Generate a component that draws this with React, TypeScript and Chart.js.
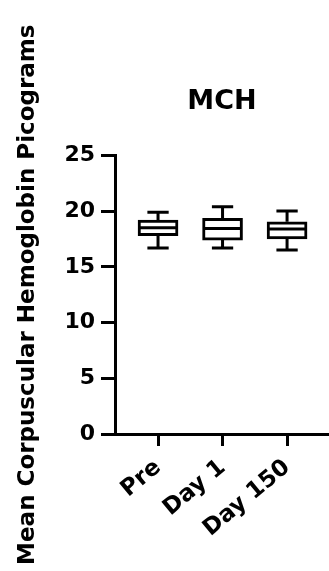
import React, { useEffect, useRef } from "react";
import { Chart, registerables } from "chart.js";

Chart.register(...registerables);

const categories = ["Pre", "Day 1", "Day 150"];
const whiskerMin = [16.7, 16.7, 16.5];
const q1Values = [17.8, 17.4, 17.5];
const medianValues = [18.5, 18.45, 18.4];
const q3Values = [19.2, 19.35, 19.05];
const whiskerMax = [19.9, 20.4, 20.0];
const yTicks = [0, 5, 10, 15, 20, 25];

const FONT = "'DejaVu Sans', 'Liberation Sans', Arial, sans-serif";

const boxPlugin = {
  id: "boxWhiskers",
  afterDatasetsDraw(chart: any) {
    const { ctx, scales } = chart;
    const xs = scales.x;
    const ys = scales.y;
    ctx.save();
    ctx.strokeStyle = "#000";
    ctx.lineWidth = 3;
    ctx.lineCap = "butt";
    categories.forEach((_, i) => {
      const xc = xs.getPixelForValue(i + 1);
      const capHalf = xs.getPixelForValue(i + 1 + 0.165) - xc;
      const boxHalf = xs.getPixelForValue(i + 1 + 0.29) - xc;
      const yMin = ys.getPixelForValue(whiskerMin[i]);
      const yMax = ys.getPixelForValue(whiskerMax[i]);
      const yQ1 = ys.getPixelForValue(q1Values[i]);
      const yQ3 = ys.getPixelForValue(q3Values[i]);
      const yMed = ys.getPixelForValue(medianValues[i]);
      ctx.beginPath();
      ctx.moveTo(xc, yQ3);
      ctx.lineTo(xc, yMax);
      ctx.moveTo(xc - capHalf, yMax);
      ctx.lineTo(xc + capHalf, yMax);
      ctx.moveTo(xc, yQ1);
      ctx.lineTo(xc, yMin);
      ctx.moveTo(xc - capHalf, yMin);
      ctx.lineTo(xc + capHalf, yMin);
      ctx.moveTo(xc - boxHalf, yMed);
      ctx.lineTo(xc + boxHalf, yMed);
      ctx.stroke();
    });
    ctx.restore();
  },
};

export default function App() {
  const ref = useRef<HTMLCanvasElement | null>(null);
  useEffect(() => {
    if (!ref.current) return;
    const chart = new Chart(ref.current, {
      type: "bar",
      data: {
        datasets: [
          {
            data: categories.map((_, i) => ({ x: i + 1, y: [q1Values[i], q3Values[i]] })) as any,
            backgroundColor: "#fff",
            borderColor: "#000",
            borderWidth: 3,
            borderSkipped: false,
            barThickness: 40,
          },
        ],
      },
      options: {
        responsive: false,
        animation: false,
        layout: { padding: 0 },
        plugins: {
          legend: { display: false },
          tooltip: { enabled: false },
          title: {
            display: true,
            text: "MCH",
            fullSize: false,
            color: "#000",
            font: { family: FONT, size: 27, weight: "bold" },
            padding: { top: 86, bottom: 37 },
          },
        },
        scales: {
          x: {
            type: "linear",
            min: 0.333,
            max: 3.65,
            offset: false,
            afterBuildTicks: (scale: any) => {
              scale.ticks = categories.map((_, i) => ({ value: i + 1 }));
            },
            afterFit: (scale: any) => {
              scale.height = 137;
            },
            ticks: {
              autoSkip: false,
              minRotation: 40,
              maxRotation: 40,
              padding: 8,
              color: "#000",
              font: { family: FONT, size: 23, weight: "bold" },
              callback: (v: any) => categories[Math.round(Number(v)) - 1] ?? "",
            },
            grid: {
              offset: false,
              drawOnChartArea: false,
              drawTicks: true,
              tickLength: 12,
              tickWidth: 3,
              tickColor: "#000",
            },
            border: { display: true, color: "#000", width: 3 },
          },
          y: {
            min: 0,
            max: 25,
            afterBuildTicks: (scale: any) => {
              scale.ticks = yTicks.map((v) => ({ value: v }));
            },
            afterFit: (scale: any) => {
              scale.width = 115;
            },
            ticks: {
              padding: 6,
              color: "#000",
              font: { family: FONT, size: 22, weight: "bold" },
            },
            grid: {
              drawOnChartArea: false,
              drawTicks: true,
              tickLength: 14,
              tickWidth: 3,
              tickColor: "#000",
            },
            border: { display: true, color: "#000", width: 3 },
            title: {
              display: true,
              text: "Mean Corpuscular Hemoglobin Picograms",
              color: "#000",
              font: { family: FONT, size: 23, weight: "bold" },
              padding: { top: 14, bottom: 0 },
            },
          },
        },
      },
      plugins: [boxPlugin],
    });
    return () => chart.destroy();
  }, []);
  return (
    <div style={{ position: "absolute", left: 0, top: 0, width: 329, height: 571, background: "#fff" }}>
      <canvas ref={ref} width={329} height={571} style={{ display: "block" }} />
    </div>
  );
}
